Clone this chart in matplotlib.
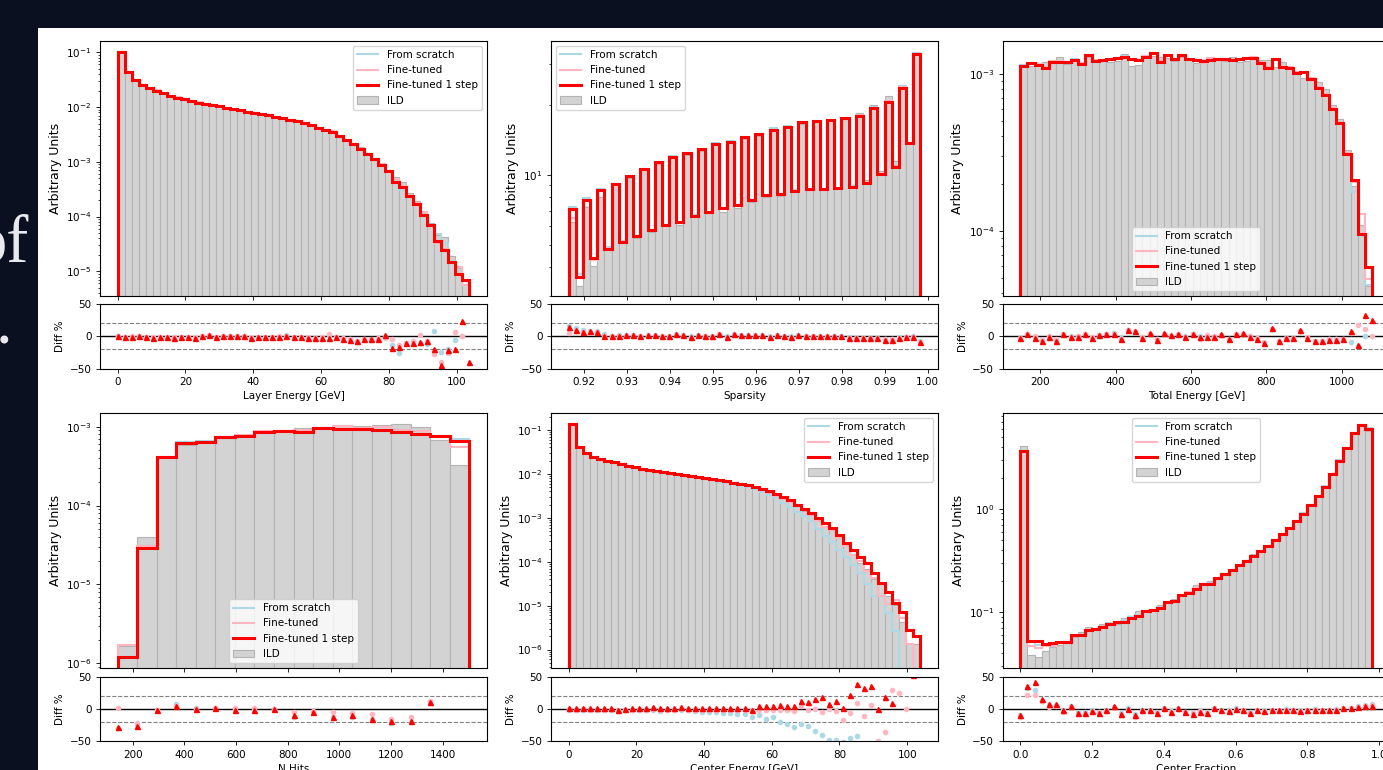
import matplotlib.pyplot as plt
import matplotlib.patches as mpatches
import numpy as np

# ---------------- data ----------------
# diff arrays are (model - ILD) / ILD in %, one value per bin edge

# Layer Energy [GeV]
layer_edges = np.linspace(0, 103.7, 51)
layer_ild = [0.100, 0.0444, 0.0313, 0.0250, 0.0222, 0.0204, 0.0180, 0.0162, 0.0151, 0.0139,
             0.0130, 0.0123, 0.0114, 0.0106, 0.0104, 0.0098, 0.0093, 0.0088, 0.0082, 0.0080,
             0.0075, 0.0071, 0.0067, 0.0063, 0.0057, 0.0055, 0.0051, 0.0047, 0.0043, 0.0039,
             0.0035, 0.0030, 0.0026, 0.00223, 0.00185, 0.00147, 0.00117, 0.00092, 0.00067, 0.00052,
             0.00042, 0.000267, 0.000189, 0.000119, 7.6e-5, 4.5e-5, 4.3e-5, 1.9e-5, 1.13e-5, 5.5e-6]
layer_scratch = [0, -1, -1, 0, -1, -2, -1, -1, -2, -1, -1, -2, 0, 1, -1, 0, 0, 0, 1, -2,
                 -1, -1, -1, -1, 2, -1, -1, -2, -2, -2, 2, -1, -4, -5, -7, -5, -6, -4, 1, -13,
                 -26, -12, -10, -11, -12, 8, -24, -20, -6, 0, np.nan]
layer_ft = [0, -1, 0, 1, -1, -1, -1, -1, -1, -1, -1, -1, 0, 2, -1, 0, 0, 0, 1, -1,
            -1, -1, -1, 0, 1, -1, -1, -1, -2, -1, 3, -1, -3, -5, -7, -5, -4, -3, -2, -5,
            -14, -10, -8, 2, -8, -27, -40, -26, 7, 0, np.nan]
layer_1step = [0, -1, -1, 0, -1, -2, -1, -1, -2, -1, -1, -2, 0, 2, -1, 0, 0, 0, 1, -2,
               -1, -1, -1, -1, 1, -1, -1, -2, -2, -2, -2, -1, -4, -6, -8, -5, -4, -4, 2, -18,
               -17, -10, -10, -9, -8, -20, -44, -22, -20, 24, -40]

# Sparsity
spars_edges = np.linspace(0.9165, 0.9983, 50)
spars_ild = [6.23, 3.32, 7.29, 4.04, 8.05, 4.72, 9.02, 5.10, 9.71, 5.34,
             10.5, 5.66, 11.1, 6.00, 11.9, 6.08, 12.2, 6.68, 12.7, 6.87,
             13.5, 6.94, 14.0, 7.20, 14.3, 7.62, 14.7, 8.01, 15.8, 8.09,
             16.1, 8.56, 16.5, 8.58, 16.9, 8.67, 17.1, 8.76, 17.6, 9.05,
             18.5, 9.45, 20.0, 10.4, 21.8, 11.5, 24.4, 13.8, 33.5]
spars_scratch = [16, 13, 9, 8, 8, 3, 1, 2, 2, 2, 1, 2, 2, 1, 1, 3, 2, 0, 2, 1,
                 1, 4, 0, 3, 2, 2, 2, 2, 0, 2, 1, 0, 2, 1, 1, 0, 1, 0, 0, -1,
                 -3, -3, -2, -3, -5, -5, -1, -1, 0, -8]
spars_ft = [5, 8, 6, 6, 6, 1, 0, 0, 1, 1, 0, 1, 1, 0, -1, 2, 1, -2, 1, 0,
            -1, 3, -2, 2, 1, 1, 1, 1, -2, 1, -1, -2, 1, 0, 0, -1, 0, -1, -1, -2,
            -2, -3, -3, -3, -5, -5, -2, -1, -1, -9]
spars_1step = [14, 9, 7, 8, 7, 1, 1, 1, 2, 2, 1, 2, 2, 1, 0, 3, 2, -1, 2, 1,
               0, 4, -1, 3, 2, 2, 2, 2, -1, 2, 0, -1, 2, 1, 1, 0, 1, 0, 0, -2,
               -3, -3, -3, -3, -6, -6, -3, -1, -1, -9]

# Total Energy [GeV]
total_edges = np.linspace(146.9, 1080.5, 50)
total_ild = [1.165e-3, 1.125e-3, 1.163e-3, 1.185e-3, 1.212e-3, 1.28e-3, 1.154e-3, 1.242e-3, 1.162e-3, 1.279e-3,
             1.235e-3, 1.206e-3, 1.192e-3, 1.212e-3, 1.333e-3, 1.127e-3, 1.139e-3, 1.316e-3, 1.305e-3, 1.277e-3,
             1.257e-3, 1.216e-3, 1.282e-3, 1.253e-3, 1.183e-3, 1.222e-3, 1.242e-3, 1.253e-3, 1.214e-3, 1.284e-3,
             1.192e-3, 1.21e-3, 1.283e-3, 1.232e-3, 1.225e-3, 1.106e-3, 1.196e-3, 1.124e-3, 1.052e-3, 0.945e-3,
             0.949e-3, 0.891e-3, 0.799e-3, 0.638e-3, 0.516e-3, 0.326e-3, 0.194e-3, 0.109e-3, 0.0444e-3]
total_scratch = [-2, 3, -1, -6, -2, -6, 3, 0, 0, 3, -1, 1, 3, 5, -3, 9, 7, -1, 4, -5,
                 4, 1, 2, 0, 3, 0, 0, 0, 2, -4, 3, 4, 0, -4, -10, 12, -7, -2, -2, 8,
                 -1, -7, -7, -5, -5, -4, -9, -15, 1, np.nan]
total_ft = [-3, 3, 0, -6, 0, -5, 3, -1, 1, 3, -1, 2, 3, 3, -4, 9, 8, -1, 4, -5,
            4, 1, 3, -1, 3, -4, 2, 0, 2, -4, 3, 4, 0, -3, -9, 11, -7, -2, -2, 8,
            -1, -7, -7, -5, -5, -4, 5, 18, 11, 0]
total_1step = [-3, 4, -2, -8, -1, -7, 4, -1, -1, 4, -2, 2, 4, 4, -4, 10, 8, -2, 5, -6,
               5, 2, 3, -1, 4, -1, -1, -1, 3, -5, 4, 5, -1, -5, -11, 13, -8, -3, -3, 9,
               -2, -8, -8, -6, -6, -5, 8, -13, 33, 25]

# N Hits
nhits_edges = np.linspace(141.9, 1504, 19)
nhits_ild = [1.68e-6, 3.95e-5, 4.17e-4, 5.91e-4, 6.45e-4, 7.26e-4, 7.68e-4, 8.59e-4, 8.8e-4,
             9.6e-4, 1.0e-3, 1.06e-3, 1.03e-3, 1.06e-3, 1.07e-3, 1.0e-3, 6.76e-4, 3.3e-4]
nhits_scratch = [-29, -25, -1, 7, 2, 1, -1, -1, 0, -12, -5, -13, -12, -15, -22, -20, 10, 112, np.nan]
nhits_ft = [2, -22, -2, 4, 0, 1, 1, 1, 0, -5, -3, -5, -6, -8, -15, -13, 12, 67, np.nan]
nhits_1step = [-28, -26, -2, 4, 0, 1, -1, -1, 0, -10, -4, -12, -10, -15, -19, -19, 11, 100, np.nan]

# Center Energy [GeV]
center_edges = np.linspace(0, 103.9, 51)
center_ild = [0.1356, 0.0414, 0.0302, 0.0246, 0.0214, 0.0199, 0.0182, 0.0171, 0.0155, 0.0141,
              0.0131, 0.0122, 0.0114, 0.0109, 0.0101, 0.0096, 0.0090, 0.0087, 0.0082, 0.0078,
              0.0075, 0.0070, 0.0066, 0.0062, 0.0058, 0.0054, 0.00505, 0.00429, 0.00381, 0.00329,
              0.00278, 0.00238, 0.00190, 0.00143, 0.00115, 0.000845, 0.000639, 0.000537, 0.000363, 0.000269,
              0.000153, 9.4e-5, 7.0e-5, 4.0e-5, 3.3e-5, 1.7e-5, 1.05e-5, 4.2e-6, 1.36e-6, 1.37e-6]
center_scratch = [-2, -2, -2, -2, -2, -2, -2, -3, -2, -2, -2, -2, -1, -3, -2, -2, -1, -2, -3, -4,
                  -4, -4, -7, -6, -8, -8, -12, -10, -15, -12, -21, -24, -28, -24, -27, -34, -41, -48, -48, -52,
                  -45, -42, -55, -58, -49, -60, -75, -100, -100, -100, np.nan]
center_ft = [0, -1, 0, -1, -1, -1, -1, -2, -1, -1, -1, -1, 0, -1, -1, -1, 0, -1, -1, -1,
             -1, -1, -1, -1, -1, -2, -1, -2, -2, -2, -2, -2, -3, 4, -1, 0, -4, 0, -3, -17,
             -6, 10, -11, 6, -49, -35, 30, 25, 0, -100, np.nan]
center_1step = [1, 1, 1, 1, 1, 1, 1, -1, 0, 1, 1, 1, 3, 2, 2, 2, 3, 2, 2, 2,
                2, 2, 2, 2, 2, 2, -1, 5, 5, 5, 6, 5, 5, 12, 11, 16, 19, 8, 13, 2,
                22, 38, 33, 36, 0, 18, 10, 70, 110, 52, np.nan]

# Center Fraction
frac_edges = np.linspace(0, 0.98, 50)
frac_ild = [4.04, 0.0382, 0.0366, 0.0416, 0.0457, 0.0472, 0.0524, 0.0566, 0.0632, 0.0707,
            0.0696, 0.0756, 0.0782, 0.0769, 0.087, 0.0875, 0.101, 0.1036, 0.1074, 0.117,
            0.1225, 0.132, 0.142, 0.161, 0.1815, 0.192, 0.199, 0.211, 0.240, 0.261,
            0.283, 0.317, 0.368, 0.393, 0.445, 0.504, 0.577, 0.657, 0.762, 0.923,
            1.09, 1.33, 1.67, 2.21, 2.95, 3.88, 5.35, 6.31, 5.67]
frac_scratch = [-10, 33, 30, 12, 6, 6, -2, 4, -5, -5, -2, -5, -1, 3, -7, 1, -8, -1, -2, -5,
                1, -3, 1, -4, -6, -3, -5, 1, -2, -2, 1, -1, -5, -1, -2, -1, -2, 0, -1, -2,
                -1, 0, -1, -1, 0, 1, 2, 4, 6, 7]
frac_ft = [-12, 22, 22, 12, 3, 5, -5, 3, -8, -8, -4, -5, -3, 2, -10, -1, -12, -3, -3, -6,
           0, -5, 0, -4, -7, -3, -6, 0, -3, -3, -1, -2, -6, -2, -3, -2, -2, -1, -1, -3,
           -1, -1, -2, -2, -1, 1, 2, 3, 5, 6]
frac_1step = [-10, 36, 42, 16, 8, 8, -2, 5, -6, -6, -3, -6, -2, 4, -8, 0, -10, -2, -2, -7,
              2, -4, 2, -5, -8, -4, -6, 1, -2, -3, 0, -1, -6, -1, -3, -2, -2, -1, -1, -3,
              -1, -1, -2, -2, -1, 1, 1, 3, 4, 5]

xlabels = ['Layer Energy [GeV]', 'Sparsity', 'Total Energy [GeV]',
           'N Hits', 'Center Energy [GeV]', 'Center Fraction']

# ---------------- layout ----------------
plt.rcParams.update({
    'font.size': 7.5,
    'axes.linewidth': 0.8,
    'axes.labelpad': 3,
    'xtick.major.size': 2.6, 'ytick.major.size': 2.6,
    'xtick.minor.size': 1.5, 'ytick.minor.size': 1.5,
    'xtick.major.width': 0.6, 'ytick.major.width': 0.6,
    'ytick.minor.width': 0.5,
    'legend.fontsize': 7.5,
})

W, H = 1383, 770
fig = plt.figure(figsize=(W / 100, H / 100), dpi=100, facecolor='#0a1020')
fig.patches.append(mpatches.Rectangle((38 / W, 0), 1, 1 - 28 / H, transform=fig.transFigure,
                                      facecolor='white', edgecolor='none', zorder=-1))
# slide text cut off at the left edge
fig.text(-27 / W, 1 - 262 / H, 'of', fontsize=48, family='Liberation Serif', color='#e8eaf0')
fig.text(-4 / W, 1 - 343 / H, '.', fontsize=48, family='Liberation Serif', color='#e8eaf0')


def px_axes(left, top, w, h, **kw):
    return fig.add_axes([left / W, 1 - (top + h) / H, w / W, h / H], **kw)


col_left = [100, 551, 1002.7]
main_top = [40.7, 412.7]
ratio_top = [304, 676.7]

panels = [
    (layer_edges, layer_ild, layer_scratch, layer_ft, layer_1step),
    (spars_edges, spars_ild, spars_scratch, spars_ft, spars_1step),
    (total_edges, total_ild, total_scratch, total_ft, total_1step),
    (nhits_edges, nhits_ild, nhits_scratch, nhits_ft, nhits_1step),
    (center_edges, center_ild, center_scratch, center_ft, center_1step),
    (frac_edges, frac_ild, frac_scratch, frac_ft, frac_1step),
]
ylims = [(3.5e-6, 0.163), (3.0, 37.7), (3.83e-5, 1.63e-3),
         (8.7e-7, 1.5e-3), (3.77e-7, 0.248), (0.0284, 8.55)]
leg_locs = ['upper right', 'upper left', 'lower center',
            'lower center', 'upper right', 'upper center']

models = [('From scratch', 'lightblue', 1.5, 'o', 3.0),
          ('Fine-tuned', 'lightpink', 1.5, 'o', 3.0),
          ('Fine-tuned 1 step', 'red', 2.2, '^', 3.6)]

for k, (edges, ild, *diffs) in enumerate(panels):
    r, c = divmod(k, 3)
    ax = px_axes(col_left[c], main_top[r], 387, 255.5)
    axr = px_axes(col_left[c], ratio_top[r], 387, 64.5, sharex=ax)

    ild = np.asarray(ild, dtype=float)
    ax.bar(edges[:-1], ild, width=np.diff(edges), align='edge', color='lightgray',
           edgecolor='#b3b3b3', linewidth=0.8, label='ILD')

    axr.axhline(0, color='black', lw=1)
    axr.axhline(20, color='gray', ls='--', lw=0.8)
    axr.axhline(-20, color='gray', ls='--', lw=0.8)

    for (label, color, lw, mk, ms), d in zip(models, diffs):
        d = np.asarray(d, dtype=float)
        ax.stairs(ild * (1 + d[:-1] / 100), edges, color=color, lw=lw, label=label)
        axr.plot(edges, d, mk, color=color, ms=ms, ls='none')

    ax.set_yscale('log')
    ax.set_ylim(*ylims[k])
    ax.set_ylabel('Arbitrary Units', fontsize=9)
    ax.tick_params(labelbottom=False)
    ax.legend(loc=leg_locs[k])

    axr.set_ylim(-50, 50)
    axr.set_yticks([-50, 0, 50])
    axr.set_ylabel('Diff %')
    axr.set_xlabel(xlabels[k])

fig.savefig('out.png', dpi=100, facecolor=fig.get_facecolor())
